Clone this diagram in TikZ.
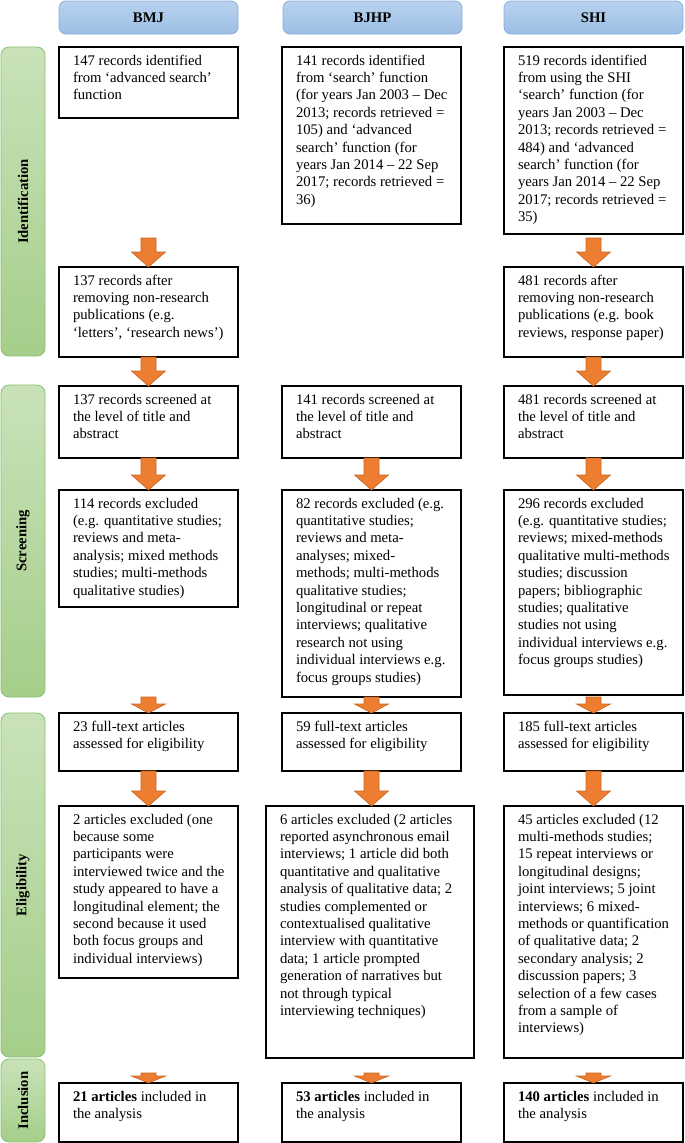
\documentclass[tikz,border=0pt]{standalone}
\usepackage{fontspec}
\setmainfont{Liberation Serif}
\usepackage{xcolor}
\usepackage{tikz}
\usetikzlibrary{calc}
\definecolor{hdrtop}{HTML}{BAD2EE}
\definecolor{hdrbot}{HTML}{9BBFE6}
\definecolor{hdredge}{HTML}{88ADDC}
\definecolor{bartop}{HTML}{C9E2B9}
\definecolor{barbot}{HTML}{A5CE8A}
\definecolor{baredge}{HTML}{8DC070}
\definecolor{orng}{HTML}{ED7D31}
\definecolor{orngedge}{HTML}{C8641E}

\newcommand{\flowfont}{\fontsize{14.7pt}{17.4pt}\selectfont}
\newcommand{\boxtxt}[3]{\parbox[c][#2][t]{#1}{\raggedright\leftskip=14pt\rule{0pt}{18pt}#3}}
\newcommand{\blockarrow}[3][15pt]{%
  \path[arrowfill] let \p1=(#2), \p2=(#3) in
    (\x1-7.5pt,\y1) -- (\x1+7.5pt,\y1) -- (\x1+7.5pt,\y2+#1) -- (\x1+17pt,\y2+#1)
    -- (\x1,\y2) -- (\x1-17pt,\y2+#1) -- (\x1-7.5pt,\y2+#1) -- cycle;}

\tikzset{
  recbox/.style={draw=black,line width=1.4pt,inner sep=0pt,outer sep=0pt,anchor=north west},
  hdr/.style={rounded corners=7pt,top color=hdrtop,bottom color=hdrbot,draw=hdredge,line width=0.8pt,
    font=\flowfont\bfseries,minimum width=179pt,minimum height=33pt,inner sep=0pt},
  phase/.style={rounded corners=8pt,top color=bartop,bottom color=barbot,draw=baredge,line width=0.8pt,
    font=\flowfont\bfseries,minimum width=44pt,inner sep=0pt},
  arrowfill/.style={fill=orng,draw=orngedge,line width=0.6pt}
}

\begin{document}
\begin{tikzpicture}[x=1pt,y=-1pt,font=\flowfont]
\fill[white] (0,0) rectangle (685,1143);
\useasboundingbox (0,0) rectangle (685,1143);

\node[hdr] (hBMJ) at (148.5,17.5) {BMJ};
\node[hdr] (hBJHP) at (372.5,17.5) {BJHP};
\node[hdr] (hSHI) at (593.5,17.5) {SHI};

\node[phase,minimum height=309pt] (pIdent) at (23,201.5) {\rotatebox{90}{Identification}};
\node[phase,minimum height=312pt] (pScreen) at (23,541) {\rotatebox{90}{Screening}};
\node[phase,minimum height=344pt] (pElig) at (23,885) {\rotatebox{90}{Eligibility}};
\node[phase,minimum height=83pt] (pIncl) at (23,1100.5) {\rotatebox{90}{Inclusion}};

% BMJ
\node[recbox] (bmjA) at (59,47) {\boxtxt{179pt}{71pt}{147 records identified\\from ‘advanced search’\\function}};
\node[recbox] (bmjB) at (59,267) {\boxtxt{179pt}{90pt}{137 records after\\removing non-research\\publications (e.g.\\‘letters’, ‘research news’)}};
\node[recbox] (bmjC) at (59,386) {\boxtxt{179pt}{72pt}{137 records screened at\\the level of title and\\abstract}};
\node[recbox] (bmjD) at (59,490) {\boxtxt{179pt}{117pt}{114 records excluded\\(e.g. quantitative studies;\\reviews and meta-\\analysis; mixed methods\\studies; multi-methods\\qualitative studies)}};
\node[recbox] (bmjE) at (59,713) {\boxtxt{179pt}{58pt}{23 full-text articles\\assessed for eligibility}};
\node[recbox] (bmjF) at (59,806) {\boxtxt{179pt}{172pt}{2 articles excluded (one\\because some\\participants were\\interviewed twice and the\\study appeared to have a\\longitudinal element; the\\second because it used\\both focus groups and\\individual interviews)}};
\node[recbox] (bmjG) at (59,1083) {\boxtxt{179pt}{59pt}{\textbf{21 articles} included in\\the analysis}};

% BJHP
\node[recbox] (bjhpA) at (282,47) {\boxtxt{179pt}{177pt}{141 records identified\\from ‘search’ function\\(for years Jan 2003 – Dec\\2013; records retrieved =\\105) and ‘advanced\\search’ function (for\\years Jan 2014 – 22 Sep\\2017; records retrieved =\\36)}};
\node[recbox] (bjhpC) at (282,386) {\boxtxt{179pt}{72pt}{141 records screened at\\the level of title and\\abstract}};
\node[recbox] (bjhpD) at (282,490) {\boxtxt{179pt}{207pt}{82 records excluded (e.g.\\quantitative studies;\\reviews and meta-\\analyses; mixed-\\methods; multi-methods\\qualitative studies;\\longitudinal or repeat\\interviews; qualitative\\research not using\\individual interviews e.g.\\focus groups studies)}};
\node[recbox] (bjhpE) at (282,713) {\boxtxt{179pt}{58pt}{59 full-text articles\\assessed for eligibility}};
\node[recbox] (bjhpF) at (266,806) {\boxtxt{208pt}{252pt}{6 articles excluded (2 articles\\reported asynchronous email\\interviews; 1 article did both\\quantitative and qualitative\\analysis of qualitative data; 2\\studies complemented or\\contextualised qualitative\\interview with quantitative\\data; 1 article prompted\\generation of narratives but\\not through typical\\interviewing techniques)}};
\node[recbox] (bjhpG) at (282,1083) {\boxtxt{179pt}{59pt}{\textbf{53 articles} included in\\the analysis}};

% SHI
\node[recbox] (shiA) at (504,47) {\boxtxt{179pt}{187pt}{519 records identified\\from using the SHI\\‘search’ function (for\\years Jan 2003 – Dec\\2013; records retrieved =\\484) and ‘advanced\\search’ function (for\\years Jan 2014 – 22 Sep\\2017; records retrieved =\\35)}};
\node[recbox] (shiB) at (504,267) {\boxtxt{179pt}{90pt}{481 records after\\removing non-research\\publications (e.g. book\\reviews, response paper)}};
\node[recbox] (shiC) at (504,386) {\boxtxt{179pt}{72pt}{481 records screened at\\the level of title and\\abstract}};
\node[recbox] (shiD) at (504,490) {\boxtxt{179pt}{205pt}{296 records excluded\\(e.g. quantitative studies;\\reviews; mixed-methods\\qualitative multi-methods\\studies; discussion\\papers; bibliographic\\studies; qualitative\\studies not using\\individual interviews e.g.\\focus groups studies)}};
\node[recbox] (shiE) at (504,713) {\boxtxt{179pt}{58pt}{185 full-text articles\\assessed for eligibility}};
\node[recbox] (shiF) at (504,806) {\boxtxt{179pt}{252pt}{45 articles excluded (12\\multi-methods studies;\\15 repeat interviews or\\longitudinal designs;\\joint interviews; 5 joint\\interviews; 6 mixed-\\methods or quantification\\of qualitative data; 2\\secondary analysis; 2\\discussion papers; 3\\selection of a few cases\\from a sample of\\interviews)}};
\node[recbox] (shiG) at (504,1083) {\boxtxt{179pt}{59pt}{\textbf{140 articles} included in\\the analysis}};

\coordinate (bmjAout) at (148.5,238);
\coordinate (shiAout) at (593.5,238);
\coordinate (bmjDout) at (148.5,697);
\coordinate (shiDout) at (593.5,697);
\coordinate (bmjFout) at (148.5,1073);
\coordinate (bjhpFout) at (371.5,1073);
\coordinate (shiFout) at (593.5,1073);

\blockarrow{bmjAout}{bmjB.north}
\blockarrow{shiAout}{shiB.north}
\blockarrow{bmjB.south}{bmjC.north}
\blockarrow{shiB.south}{shiC.north}
\foreach \c in {bmj,bjhp,shi}{
  \blockarrow{\c C.south}{\c D.north}
  \blockarrow{\c E.south}{\c F.north}
  \blockarrow[7pt]{\c Fout}{\c G.north}}
\blockarrow[9pt]{bmjDout}{bmjE.north}
\blockarrow[9pt]{bjhpD.south}{bjhpE.north}
\blockarrow[9pt]{shiDout}{shiE.north}
\end{tikzpicture}
\end{document}
